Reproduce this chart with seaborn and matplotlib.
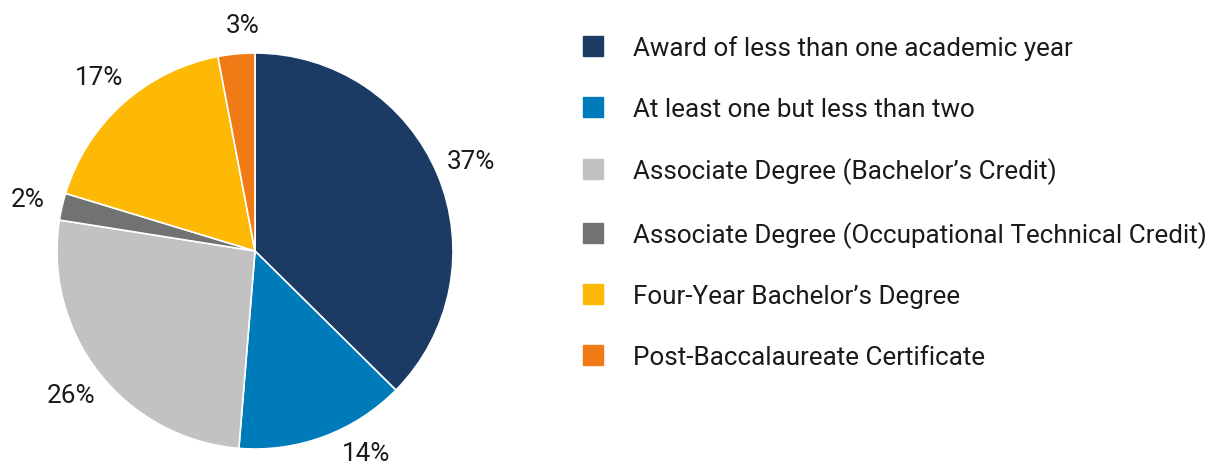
import matplotlib
matplotlib.use("Agg")
import matplotlib.pyplot as plt
import seaborn as sns
from matplotlib.lines import Line2D

categories = [
    "Award of less than one academic year",
    "At least one but less than two",
    "Associate Degree (Bachelor\u2019s Credit)",
    "Associate Degree (Occupational Technical Credit)",
    "Four-Year Bachelor\u2019s Degree",
    "Post-Baccalaureate Certificate",
]
shares = [37.4, 13.9, 26.2, 2.2, 17.3, 3.0]
colors = ["#1B3A64", "#007BBA", "#C2C2C2", "#717372", "#FDB905", "#F07B16"]

sns.set_theme(style="white")
plt.rcParams["font.family"] = ["Roboto", "DejaVu Sans"]

W, H = 1215, 464
fig = plt.figure(figsize=(W / 100, H / 100), dpi=100)
r = 198
cx, cy = 255, 464 - 252
half = 1.25 * r
ax = fig.add_axes([(cx - half) / W, (cy - half) / H, 2 * half / W, 2 * half / H])

FS = 18.7
wedges, texts, autotexts = ax.pie(
    shares,
    colors=colors,
    startangle=90,
    counterclock=False,
    autopct=lambda p: f"{p:.0f}%",
    pctdistance=1.18,
    wedgeprops=dict(edgecolor="white", linewidth=1.2),
    textprops=dict(fontsize=FS, color="#1a1a1a"),
)
# the small bottom label is nudged up to stay inside the figure, as in the reference
autotexts[1].set_position((0.56, -1.02))
autotexts[5].set_position((-0.06, 1.14))
ax.set_xlim(-1.25, 1.25)
ax.set_ylim(-1.25, 1.25)
ax.set_aspect("equal")
ax.axis("off")

handles = [Line2D([], [], marker="s", linestyle="none", markersize=14.4,
                  markerfacecolor=c, markeredgecolor=c) for c in colors]
leg = fig.legend(
    handles, categories,
    loc="upper left",
    bbox_to_anchor=(557 / W, 1 - 13 / H),
    frameon=False,
    fontsize=FS,
    labelspacing=1.41,
    handletextpad=1.04,
    handlelength=1.0,
    labelcolor="#1a1a1a",
)

fig.savefig("out.png", dpi=100, facecolor="white")
